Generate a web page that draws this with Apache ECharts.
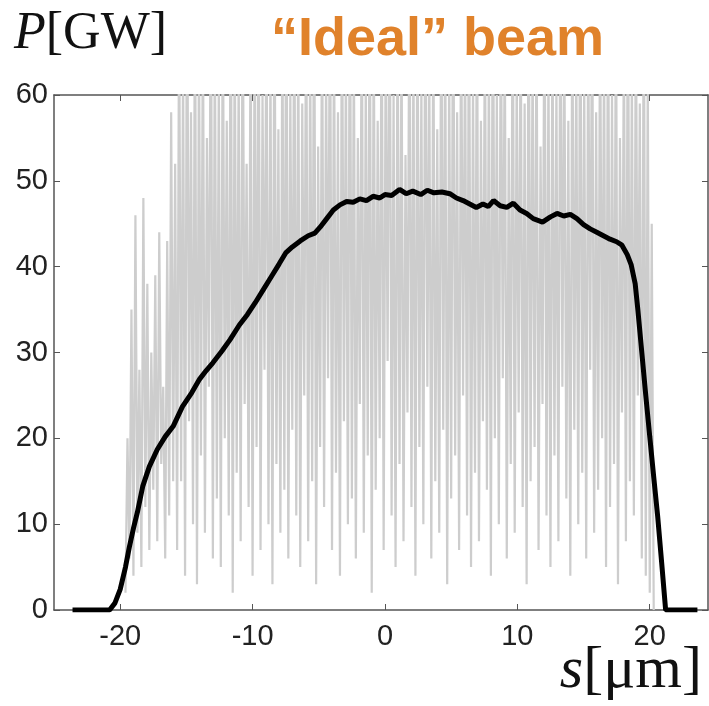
<!DOCTYPE html>
<html><head><meta charset="utf-8">
<script src="https://cdn.jsdelivr.net/npm/echarts@6/dist/echarts.min.js"></script>
<style>html,body{margin:0;padding:0;background:#fff}#c{width:709px;height:706px}</style>
</head><body><div id="c"></div>
<script>
// Tick labels
const xTicks = [-20, -10, 0, 10, 20];
const yTicks = [0, 10, 20, 30, 40, 50, 60];

// Smoothed power profile (black), [s in um, P in GW]
const meanS = [-23.6,-20.8,-20.4,-20.0,-19.6,-19.3,-19.0,-18.7,-18.3,-17.8,-17.2,-16.6,-16.0,-15.3,-14.6,-14.0,-13.5,-13.0,-12.3,-11.7,-11.0,-10.4,-9.8,-9.2,-8.6,-8.0,-7.5,-7.0,-6.4,-5.8,-5.3,-4.9,-4.4,-3.9,-3.4,-2.9,-2.4,-1.9,-1.4,-0.9,-0.4,0,0.5,1.1,1.6,2.1,2.7,3.2,3.7,4.3,4.9,5.4,5.9,6.4,6.9,7.4,7.8,8.2,8.7,9.2,9.7,10.2,10.7,11.2,11.9,12.5,13.0,13.5,14.0,14.5,15.0,15.5,16.0,16.5,17.0,17.5,17.9,18.3,18.6,18.9,19.1,19.4,19.7,20.0,20.3,20.6,20.9,21.2,23.6];
const meanP = [0,0,0.8,2.4,5,7.4,9.5,11.4,14.4,16.7,18.7,20.2,21.4,23.7,25.3,26.9,27.9,28.8,30.2,31.5,33.2,34.4,35.8,37.3,38.8,40.3,41.6,42.3,43.0,43.6,43.9,44.6,45.6,46.6,47.2,47.6,47.5,47.9,47.7,48.2,48.0,48.4,48.3,49.0,48.5,48.8,48.4,48.9,48.6,48.7,48.5,48.0,47.7,47.3,46.9,47.3,47.0,47.7,47.1,46.9,47.4,46.6,46.2,45.6,45.2,45.8,46.2,45.9,46.1,45.6,44.9,44.4,44.0,43.6,43.2,42.9,42.5,41.4,40.2,38.0,35.0,30.0,25.0,20.2,15.5,10.9,5.5,0,0];

// Raw single-shot power (gray), sampled from s = noiseStart with spacing noiseStep
const noiseStart = -19.6;
const noiseStep = 0.15;
const noiseP = [
 2,20,6,35,4,46,9,28,5,48,12,38,7,30,14,39,8,44,17,26,6,43,11,58,15,52,
 7,72,15,64,4,80,22,58,10,75,3,66,18,70,9,55,26,78,6,68,
 13,62,5,74,20,57,11,81,2,69,16,63,8,76,24,52,12,71,4,67,
 19,79,7,60,28,73,10,65,3,77,17,56,9,70,14,82,6,61,21,75,
 11,68,5,59,25,74,8,66,15,79,3,54,19,72,12,63,27,77,7,69,
 16,58,4,76,22,64,10,80,13,67,6,55,24,73,9,62,18,78,2,70,
 14,57,20,75,7,65,29,81,11,60,5,72,17,68,8,53,23,77,12,66,
 4,74,19,61,10,79,26,63,6,71,15,56,9,76,21,69,3,64,13,80,
 18,58,7,73,25,67,11,78,5,62,16,75,8,57,22,70,14,65,4,81,
 20,60,10,74,27,68,6,55,17,77,9,63,23,72,12,59,3,79,15,66,
 19,71,7,54,24,76,11,64,5,70,18,61,8,78,26,67,13,57,4,73,
 21,65,10,80,16,62,6,69,28,75,9,58,14,72,20,66,5,77,12,60,
 17,74,3,55,23,68,8,79,15,63,11,71,25,59,6,76,
 4,62,2,45,0
];

const chart = echarts.init(document.getElementById('c'), null, {renderer:'canvas'});
const noiseData = noiseP.map((v,i)=>[noiseStart + i*noiseStep, v]);
const meanData = meanS.map((s,i)=>[s, meanP[i]]);
const axisCol = '#555';
const serif = 'Liberation Serif';
chart.setOption({
  animation:false,
  backgroundColor:'#fff',
  title:[
    {text:'{i|P}{n|[GW]}', left:9, top:3, textStyle:{rich:{
      i:{fontFamily:serif, fontStyle:'italic', fontWeight:'normal', fontSize:52, color:'#111'},
      n:{fontFamily:serif, fontWeight:'normal', fontSize:52, color:'#111'}}}},
    {text:'\u201cIdeal\u201d beam', left:266, top:8, textStyle:{fontFamily:'Liberation Sans', fontWeight:'bold', fontSize:54, color:'#E0822B'}},
    {text:'{i|s}{n|[\u03bcm]}', right:2, bottom:0, textStyle:{rich:{
      i:{fontFamily:serif, fontStyle:'italic', fontWeight:'normal', fontSize:60, color:'#111'},
      n:{fontFamily:serif, fontWeight:'normal', fontSize:60, color:'#111'}}}}
  ],
  grid:{left:54, right:1, top:95, bottom:96, containLabel:false},
  xAxis:[
    {type:'value', min:-25, max:24.4, position:'bottom',
     axisLine:{onZero:false, lineStyle:{color:axisCol, width:1.5}},
     axisTick:{inside:true, length:6, customValues:xTicks, lineStyle:{color:axisCol}},
     axisLabel:{customValues:xTicks, margin:12, fontFamily:'Liberation Sans', fontSize:29, color:'#222'},
     splitLine:{show:false}},
    {type:'value', min:-25, max:24.4, position:'top',
     axisLine:{onZero:false, lineStyle:{color:axisCol, width:1.5}},
     axisTick:{inside:true, length:6, customValues:xTicks, lineStyle:{color:axisCol}},
     axisLabel:{show:false}, splitLine:{show:false}}
  ],
  yAxis:[
    {type:'value', min:0, max:60, interval:10, position:'left',
     axisLine:{show:true, onZero:false, lineStyle:{color:axisCol, width:1.5}},
     axisTick:{show:true, inside:true, length:6, lineStyle:{color:axisCol}},
     axisLabel:{margin:6, fontFamily:'Liberation Sans', fontSize:29, color:'#222'},
     splitLine:{show:false}},
    {type:'value', min:0, max:60, interval:10, position:'right',
     axisLine:{show:true, onZero:false, lineStyle:{color:axisCol, width:1.5}},
     axisTick:{show:true, inside:true, length:6, lineStyle:{color:axisCol}},
     axisLabel:{show:false}, splitLine:{show:false}}
  ],
  series:[
    {type:'line', data:noiseData, showSymbol:false, symbol:'none', clip:true,
     lineStyle:{color:'#cdcdcd', width:2.2, join:'miter', miterLimit:2}, z:2},
    {type:'line', data:meanData, showSymbol:false, symbol:'none', clip:true,
     lineStyle:{color:'#000', width:5}, z:3}
  ]
});
</script></body></html>
